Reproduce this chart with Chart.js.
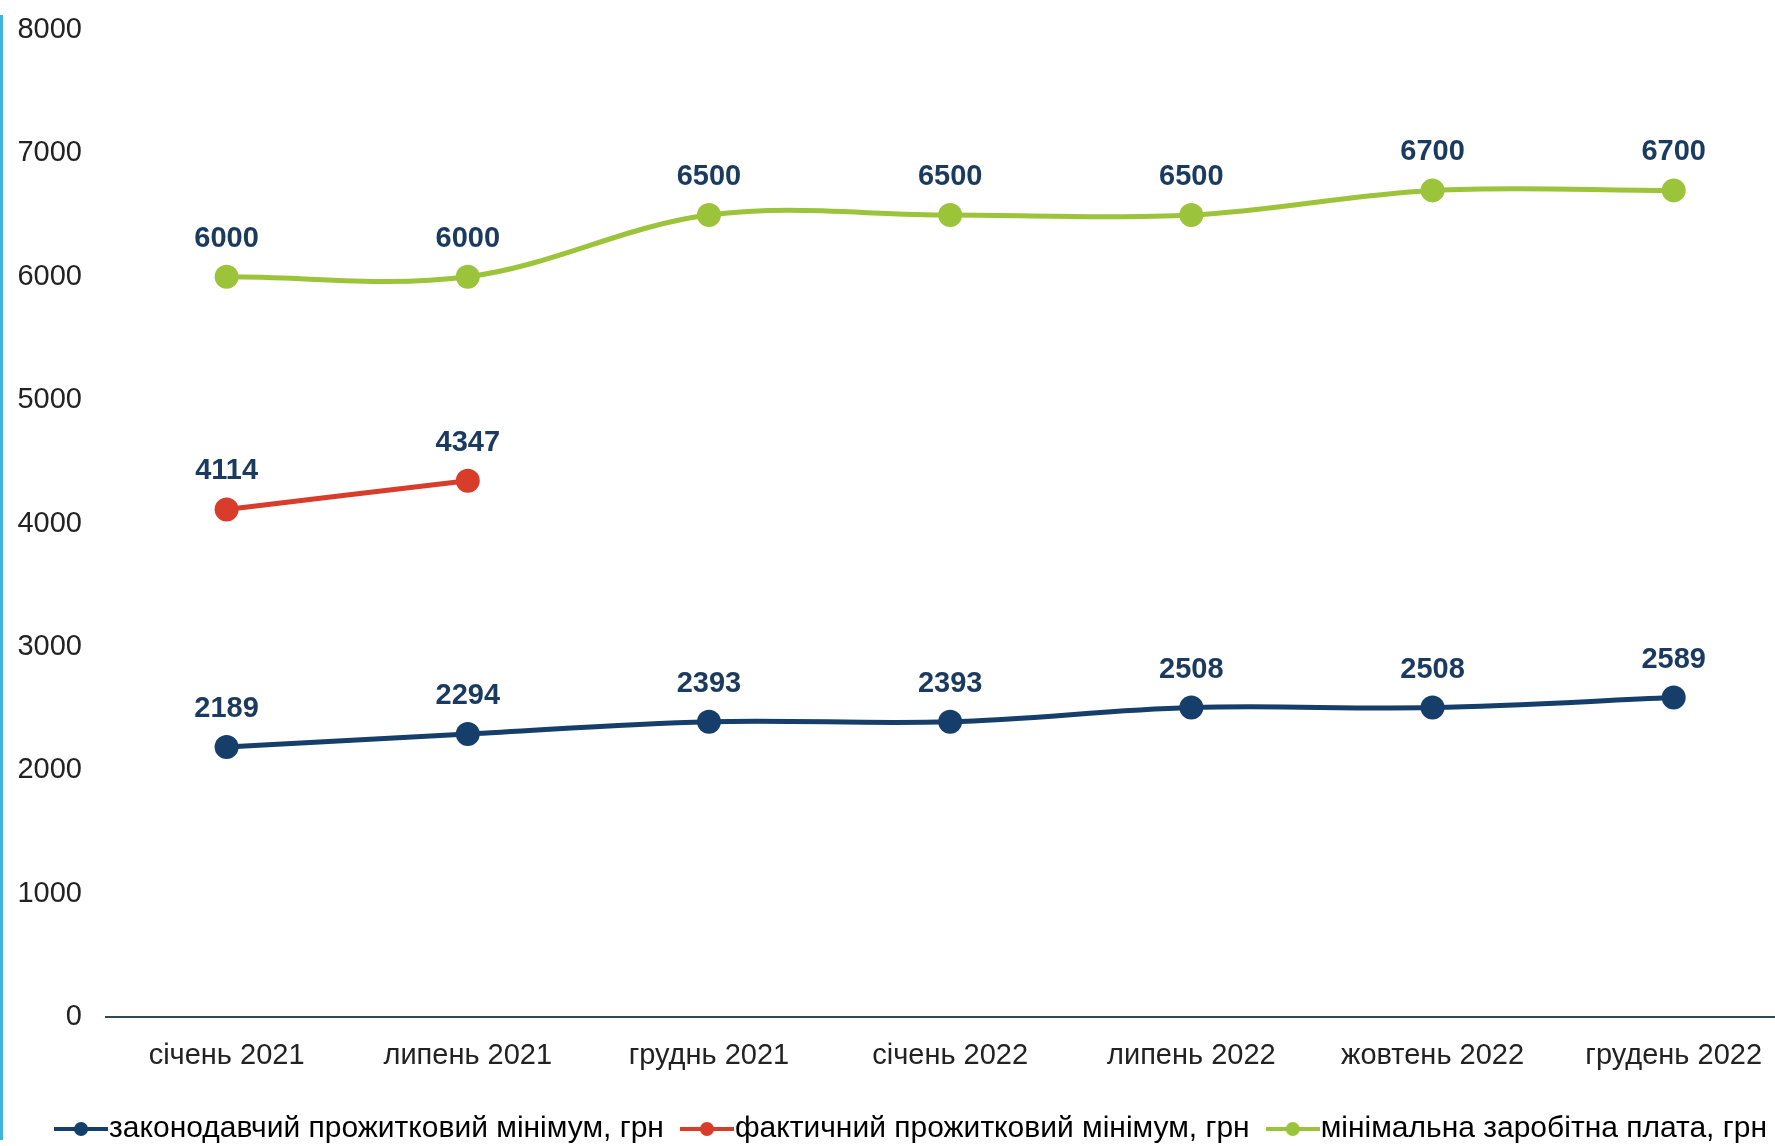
<!DOCTYPE html>
<html>
<head>
<meta charset="utf-8">
<script src="https://cdn.jsdelivr.net/npm/chart.js@4.4.1/dist/chart.umd.min.js"></script>
<style>
  body { margin: 0; background: #fff; overflow: hidden; }
  #edge { position: absolute; left: 0; top: 15px; width: 3px; height: 1125px; background: #3cb4dc; }
  canvas { display: block; }
</style>
</head>
<body>
<div id="edge"></div>
<canvas id="chart" width="1775" height="1146"></canvas>
<script>
// values
const categories = ['січень 2021', 'липень 2021', 'груднь 2021', 'січень 2022', 'липень 2022', 'жовтень 2022', 'грудень 2022'];
const officialMinimum = [2189, 2294, 2393, 2393, 2508, 2508, 2589];
const actualMinimum = [4114, 4347, null, null, null, null, null];
const minimumWage = [6000, 6000, 6500, 6500, 6500, 6700, 6700];
const yTicks = [0, 1000, 2000, 3000, 4000, 5000, 6000, 7000, 8000];
const seriesNames = [
    'законодавчий прожитковий мінімум, грн',
    'фактичний прожитковий мінімум, грн',
    'мінімальна заробітна плата, грн'
];
const colors = ['#163e6b', '#d73d2a', '#9cc43a'];

const FONT = '"Liberation Sans", Arial, sans-serif';

// little line + dot used as legend marker
function legendSymbol(color) {
    let c = document.createElement('canvas');
    c.width = 54;
    c.height = 16;
    let g = c.getContext('2d');
    g.strokeStyle = color;
    g.lineWidth = 4;
    g.beginPath();
    g.moveTo(0, 8);
    g.lineTo(54, 8);
    g.stroke();
    g.fillStyle = color;
    g.beginPath();
    g.arc(27, 8, 7, 0, Math.PI * 2);
    g.fill();
    return c;
}

function toPoints(values) {
    return values.map((v, i) => ({ x: i, y: v }));
}

const valueLabels = {
    id: 'valueLabels',
    afterDatasetsDraw(chart) {
        let ctx = chart.ctx;
        ctx.save();
        ctx.font = 'bold 29px ' + FONT;
        ctx.fillStyle = '#1b3a5f';
        ctx.textAlign = 'center';
        ctx.textBaseline = 'middle';
        chart.data.datasets.forEach((ds, di) => {
            chart.getDatasetMeta(di).data.forEach((pt, i) => {
                let v = ds.data[i].y;
                if (v == null) return;
                ctx.fillText(String(v), pt.x, pt.y - 38);
            });
        });
        ctx.restore();
    }
};

// the legend in the source sits a little right of centre
const legendShift = {
    id: 'legendShift',
    afterLayout(chart) {
        chart.legend.left += 30;
        chart.legend.right += 30;
    }
};

const seriesValues = [officialMinimum, actualMinimum, minimumWage];

let ctx = document.getElementById('chart');
let chart = new Chart(ctx, {
    type: 'line',
    data: {
        datasets: seriesValues.map((vals, i) => ({
            label: seriesNames[i],
            data: toPoints(vals),
            borderColor: colors[i],
            backgroundColor: colors[i],
            pointBackgroundColor: colors[i],
            pointBorderWidth: 0,
            pointRadius: 12,
            borderWidth: 5,
            tension: 0.35,
            fill: false,
            spanGaps: false,
            pointStyle: 'circle'
        }))
    },
    options: {
        responsive: false,
        animation: false,
        devicePixelRatio: 1,
        layout: { autoPadding: false, padding: { top: 0, left: 0, right: 0, bottom: -8 } },
        scales: {
            x: {
                type: 'linear',
                min: -0.5,
                max: 6.42,
                afterBuildTicks: axis => { axis.ticks = categories.map((c, i) => ({ value: i })); },
                afterFit: axis => {
                    axis.height = 67;
                    axis.paddingLeft = 0;
                    axis.paddingRight = 0;
                },
                grid: { display: false, drawTicks: false },
                border: { display: true, color: '#2e4a62', width: 2 },
                ticks: {
                    padding: 22,
                    color: '#222',
                    font: { family: FONT, size: 29 },
                    maxRotation: 0,
                    autoSkip: false,
                    callback: v => categories[v]
                }
            },
            y: {
                min: 0,
                max: 8000,
                afterBuildTicks: axis => { axis.ticks = yTicks.map(v => ({ value: v })); },
                afterFit: axis => {
                    axis.width = 106;
                    axis.paddingTop = 30;
                    axis.paddingBottom = 0;
                },
                grid: { display: false, drawTicks: false },
                border: { display: false },
                ticks: {
                    padding: 24,
                    color: '#222',
                    font: { family: FONT, size: 29 },
                    callback: v => String(v)
                }
            }
        },
        plugins: {
            legend: {
                position: 'bottom',
                labels: {
                    usePointStyle: true,
                    pointStyleWidth: 26,
                    padding: 30,
                    color: '#111',
                    font: { family: FONT, size: 30 },
                    generateLabels: ch => ch.data.datasets.map((ds, i) => ({
                        text: ds.label,
                        pointStyle: legendSymbol(colors[i]),
                        fillStyle: colors[i],
                        strokeStyle: colors[i],
                        lineWidth: 0,
                        datasetIndex: i
                    }))
                }
            },
            tooltip: { enabled: false }
        }
    },
    plugins: [valueLabels, legendShift]
});
</script>
</body>
</html>
